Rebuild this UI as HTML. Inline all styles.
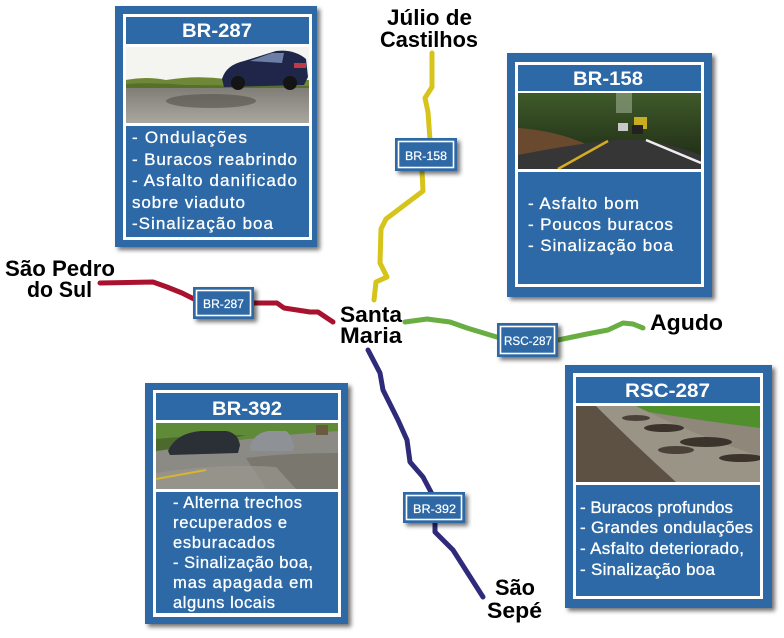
<!DOCTYPE html>
<html><head><meta charset="utf-8"><style>
html,body{margin:0;padding:0;background:#fff;}
svg{display:block;}
text{font-family:"Liberation Sans",sans-serif;}
.w{fill:#fff;font-size:17px;stroke:#fff;stroke-width:0.3;}
.w3{fill:#fff;font-size:16.5px;stroke:#fff;stroke-width:0.3;}
.t{fill:#fff;font-size:19px;font-weight:bold;}
.s{fill:#fff;font-size:12px;stroke:#fff;stroke-width:0.2;}
.l{fill:#000;font-size:22px;font-weight:bold;}
</style></head><body>
<svg width="784" height="638" viewBox="0 0 784 638" xmlns="http://www.w3.org/2000/svg">
<defs>
<filter id="sh" x="-10%" y="-10%" width="130%" height="130%"><feDropShadow dx="3" dy="3" stdDeviation="2" flood-color="#000" flood-opacity="0.55"/></filter>
<linearGradient id="rd1" x1="0" y1="0" x2="0" y2="1"><stop offset="0" stop-color="#807d77"/><stop offset="1" stop-color="#aaa79f"/></linearGradient>
<linearGradient id="tr2" x1="0" y1="0" x2="0" y2="1"><stop offset="0" stop-color="#3f5a2a"/><stop offset="1" stop-color="#1c2814"/></linearGradient>
</defs>

<!-- Roads -->
<g fill="none" stroke-width="5" stroke-linecap="round" stroke-linejoin="round">
<polyline stroke="#d6c41b" points="432,53 432,87 425,98 428,112 430,140 422,171 423,191 386,219 381,229 380,263 387,277 376,282 374,300"/>
<polyline stroke="#a8122f" points="100,283 153,282 167,287 182,293 196,300 220,303 254,303 277,303 284,308 310,312 318,312 333,322"/>
<polyline stroke="#68ae42" points="405,322 427,319 450,322 467,328 500,338 530,340 558,340 587,334 608,330 623,323 633,324 643,328"/>
<polyline stroke="#2f2a7a" points="368,350 380,373 383,390 398,420 407,440 410,462 423,477 432,494 435,510 435,532 453,550 483,597"/>
</g>

<!-- Card 1 BR-287 -->
<g filter="url(#sh)"><rect x="115" y="6" width="202" height="241" fill="#2d69a6"/></g>
<rect x="123" y="14" width="189" height="226" fill="#fff"/>
<rect x="126" y="17" width="183" height="27" fill="#2d69a6"/>
<svg x="126" y="47" width="183" height="76" viewBox="0 0 183 76">
<rect width="183" height="76" fill="#f4f4f0"/>
<path d="M0,33 Q20,29 40,33 Q70,28 100,32 Q140,30 183,33 L183,42 L0,42Z" fill="#6f8838"/>
<path d="M0,37 Q30,35 60,38 L183,39 L183,42 L0,42Z" fill="#56702c"/>
<rect x="0" y="41" width="183" height="35" fill="url(#rd1)"/>
<ellipse cx="85" cy="54" rx="45" ry="7" fill="#4e4a44" opacity="0.55"/>
<path d="M96,32 Q100,18 118,14 L150,4 Q168,2 180,12 L182,30 L178,38 L98,40Z" fill="#1f2649"/>
<path d="M124,14 L146,6 L158,6 L156,16Z" fill="#6d7ea6"/>
<rect x="168" y="16" width="12" height="5" fill="#c23a45"/>
<circle cx="112" cy="36" r="7" fill="#141414"/><circle cx="164" cy="36" r="7" fill="#141414"/>
</svg>
<rect x="126" y="126" width="183" height="111" fill="#2d69a6"/>
<text class="t" x="182" y="37" textLength="70" lengthAdjust="spacingAndGlyphs">BR-287</text>
<text class="w" x="132" y="143" textLength="115" lengthAdjust="spacing">- Ondulações</text>
<text class="w" x="132" y="165" textLength="165" lengthAdjust="spacing">- Buracos reabrindo</text>
<text class="w" x="132" y="186" textLength="165" lengthAdjust="spacing">- Asfalto danificado</text>
<text class="w" x="132" y="208" textLength="113" lengthAdjust="spacing">sobre viaduto</text>
<text class="w" x="132" y="229" textLength="141" lengthAdjust="spacing">-Sinalização boa</text>

<!-- Card 2 BR-158 -->
<g filter="url(#sh)"><rect x="507" y="53" width="205" height="244" fill="#2d69a6"/></g>
<rect x="515" y="62" width="189" height="225" fill="#fff"/>
<rect x="518" y="65" width="183" height="26" fill="#2d69a6"/>
<svg x="518" y="93" width="183" height="76" viewBox="0 0 183 76">
<rect width="183" height="76" fill="url(#tr2)"/>
<rect x="98" y="0" width="16" height="20" fill="#8ea080" opacity="0.7"/>
<path d="M0,35 Q40,38 70,52 L90,58 L0,66Z" fill="#6a4a2e"/>
<path d="M0,76 L0,62 Q50,52 95,47 L120,46 Q150,50 183,62 L183,76Z" fill="#363636"/>
<line x1="90" y1="48" x2="40" y2="76" stroke="#d6ad22" stroke-width="2.5"/>
<line x1="128" y1="47" x2="183" y2="70" stroke="#eee" stroke-width="2.5"/>
<rect x="100" y="30" width="10" height="8" fill="#c8c8c8"/>
<rect x="116" y="24" width="13" height="12" fill="#c8ad20"/>
<rect x="114" y="32" width="11" height="9" fill="#222"/>
</svg>
<rect x="518" y="172" width="183" height="112" fill="#2d69a6"/>
<text class="t" x="573" y="85" textLength="70" lengthAdjust="spacingAndGlyphs">BR-158</text>
<text class="w" x="528" y="209" textLength="111" lengthAdjust="spacing">- Asfalto bom</text>
<text class="w" x="528" y="230" textLength="145" lengthAdjust="spacing">- Poucos buracos</text>
<text class="w" x="528" y="251" textLength="145" lengthAdjust="spacing">- Sinalização boa</text>

<!-- Card 3 BR-392 -->
<g filter="url(#sh)"><rect x="145" y="383" width="203" height="241" fill="#2d69a6"/></g>
<rect x="153" y="390" width="188" height="227" fill="#fff"/>
<rect x="156" y="393" width="182" height="27" fill="#2d69a6"/>
<svg x="156" y="423" width="182" height="66" viewBox="0 0 182 66">
<rect width="182" height="66" fill="#8c8a84"/>
<path d="M0,0 L182,0 L182,8 Q120,12 60,20 L0,28Z" fill="#5f8a38"/>
<path d="M0,16 Q40,12 90,12 L60,20 L0,28Z" fill="#4c6a2c"/>
<path d="M90,35 Q130,30 182,30 L182,66 L110,66Z" fill="#7a776f"/>
<path d="M0,50 Q60,40 120,44 L140,66 L0,66Z" fill="#9a978f" opacity="0.7"/>
<line x1="0" y1="56" x2="50" y2="47" stroke="#d8b530" stroke-width="2"/>
<path d="M12,28 Q20,10 45,8 L70,8 Q82,10 84,22 L82,30 L14,32Z" fill="#2b2f36"/>
<path d="M94,24 Q98,10 112,8 L130,8 Q136,12 138,24 L136,28 L96,28Z" fill="#8e9196"/>
<rect x="160" y="2" width="12" height="10" fill="#6a5a40"/>
</svg>
<rect x="156" y="492" width="182" height="121" fill="#2d69a6"/>
<text class="t" x="212" y="415" textLength="70" lengthAdjust="spacingAndGlyphs">BR-392</text>
<text class="w3" x="173" y="508" textLength="129" lengthAdjust="spacing">- Alterna trechos</text>
<text class="w3" x="173" y="528" textLength="114" lengthAdjust="spacing">recuperados e</text>
<text class="w3" x="173" y="548" textLength="102" lengthAdjust="spacing">esburacados</text>
<text class="w3" x="173" y="568" textLength="140" lengthAdjust="spacing">- Sinalização boa,</text>
<text class="w3" x="173" y="588" textLength="140" lengthAdjust="spacing">mas apagada em</text>
<text class="w3" x="173" y="608" textLength="102" lengthAdjust="spacing">alguns locais</text>

<!-- Card 4 RSC-287 -->
<g filter="url(#sh)"><rect x="565" y="365" width="207" height="243" fill="#2d69a6"/></g>
<rect x="573" y="373" width="190" height="226" fill="#fff"/>
<rect x="576" y="377" width="184" height="26" fill="#2d69a6"/>
<svg x="576" y="406" width="184" height="76" viewBox="0 0 184 76">
<rect width="184" height="76" fill="#8e877a"/>
<path d="M40,0 L184,0 L184,22 Q120,14 60,4Z" fill="#4f8f2c"/>
<path d="M0,0 L20,0 Q60,40 100,76 L0,76Z" fill="#5c5142"/>
<path d="M20,0 L60,0 Q120,30 184,50 L184,76 L100,76 Q60,40 20,0Z" fill="#9a9486"/>
<ellipse cx="88" cy="22" rx="20" ry="4" fill="#3b342c"/>
<ellipse cx="130" cy="36" rx="26" ry="5" fill="#3b342c"/>
<ellipse cx="100" cy="44" rx="18" ry="4" fill="#4a4238"/>
<ellipse cx="165" cy="52" rx="22" ry="4" fill="#3b342c"/>
<ellipse cx="60" cy="12" rx="14" ry="3" fill="#4a4238"/>
</svg>
<rect x="576" y="485" width="184" height="111" fill="#2d69a6"/>
<text class="t" x="625" y="397" textLength="85" lengthAdjust="spacingAndGlyphs">RSC-287</text>
<text class="w" x="580" y="513" textLength="153" lengthAdjust="spacing">- Buracos profundos</text>
<text class="w" x="580" y="533" textLength="173" lengthAdjust="spacing">- Grandes ondulações</text>
<text class="w" x="580" y="554" textLength="164" lengthAdjust="spacing">- Asfalto deteriorado,</text>
<text class="w" x="580" y="575" textLength="135" lengthAdjust="spacing">- Sinalização boa</text>

<!-- Road signs -->
<g filter="url(#sh)">
<rect x="395" y="138" width="62" height="33" fill="#2d69a6"/>
<rect x="193" y="287" width="61" height="32" fill="#2d69a6"/>
<rect x="497" y="323" width="61" height="34" fill="#2d69a6"/>
<rect x="403" y="492" width="62" height="31" fill="#2d69a6"/>
</g>
<g fill="none" stroke="#fff" stroke-width="1.6">
<rect x="398.5" y="141.5" width="55" height="26"/>
<rect x="196.5" y="290.5" width="54" height="25"/>
<rect x="500.5" y="326.5" width="54" height="27"/>
<rect x="406.5" y="495.5" width="55" height="24"/>
</g>
<text class="s" x="405" y="160" textLength="42" lengthAdjust="spacingAndGlyphs">BR-158</text>
<text class="s" x="203" y="308" textLength="41" lengthAdjust="spacingAndGlyphs">BR-287</text>
<text class="s" x="504" y="345" textLength="48" lengthAdjust="spacingAndGlyphs">RSC-287</text>
<text class="s" x="413" y="513" textLength="43" lengthAdjust="spacingAndGlyphs">BR-392</text>

<!-- City labels -->
<text class="l" x="387" y="25" textLength="85" lengthAdjust="spacingAndGlyphs">Júlio de</text>
<text class="l" x="380" y="47" textLength="98" lengthAdjust="spacingAndGlyphs">Castilhos</text>
<text class="l" x="5" y="276" textLength="110" lengthAdjust="spacingAndGlyphs">São Pedro</text>
<text class="l" x="27" y="297" textLength="65" lengthAdjust="spacingAndGlyphs">do Sul</text>
<text class="l" x="340" y="322" textLength="62" lengthAdjust="spacingAndGlyphs">Santa</text>
<text class="l" x="340" y="343" textLength="62" lengthAdjust="spacingAndGlyphs">Maria</text>
<text class="l" x="650" y="330" textLength="73" lengthAdjust="spacingAndGlyphs">Agudo</text>
<text class="l" x="495" y="595" textLength="40" lengthAdjust="spacingAndGlyphs">São</text>
<text class="l" x="487" y="618" textLength="55" lengthAdjust="spacingAndGlyphs">Sepé</text>
</svg>
</body></html>
